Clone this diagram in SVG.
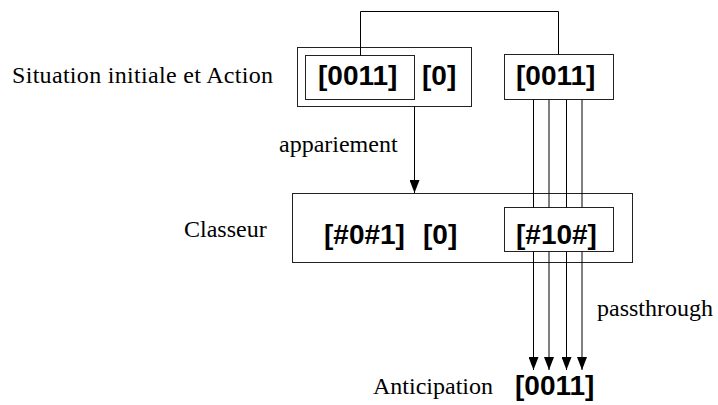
<svg xmlns="http://www.w3.org/2000/svg" width="718" height="405" viewBox="0 0 718 405">
<style>
.box{fill:none;stroke:#222;stroke-width:1}
.ln{fill:none;stroke:#000;stroke-width:1}
.lbl{font-family:"Liberation Serif","Times New Roman",serif;font-size:24px;fill:#000}
.bit{font-family:"Liberation Sans",Arial,sans-serif;font-size:28px;font-weight:bold;fill:#000}
</style>
<defs>
<marker id="ar" markerUnits="userSpaceOnUse" markerWidth="14" markerHeight="10" refX="13" refY="5" orient="auto" viewBox="0 0 14 10">
<path d="M0,0 L13,5 L0,10 Z" fill="#000"/>
</marker>
</defs>
<rect width="718" height="405" fill="#fff"/>
<text class="lbl" x="12" y="83" textLength="261" lengthAdjust="spacing">Situation initiale et Action</text>
<text class="lbl" x="279" y="152">appariement</text>
<text class="lbl" x="184" y="237">Classeur</text>
<text class="lbl" x="597" y="316">passthrough</text>
<text class="lbl" x="373" y="394">Anticipation</text>
<g id="situation">
<rect class="box" x="297.5" y="47.5" width="174" height="59"/>
<rect class="box" x="305.5" y="55.5" width="109" height="44"/>
<text class="bit" x="318" y="85">[0011]</text>
<text class="bit" x="422" y="85">[0]</text>
</g>
<g id="action">
<rect class="box" x="504.5" y="54.5" width="109" height="45"/>
<text class="bit" x="516" y="85">[0011]</text>
</g>
<g id="classeur">
<rect class="box" x="292.5" y="193.5" width="340" height="69"/>
<text class="bit" x="324" y="244">[#0#1]</text>
<text class="bit" x="423" y="244">[0]</text>
</g>
<g id="passthrough">
<rect class="box" x="504.5" y="207.5" width="109" height="44"/>
<text class="bit" x="516" y="244">[#10#]</text>
</g>
<g id="anticipation">
<text class="bit" x="515" y="395">[0011]</text>
</g>
<g id="connectors">
<polyline class="ln" points="360.5,55.5 360.5,11.5 558.5,11.5 558.5,54.5"/>
<line class="ln" x1="414.5" y1="106.5" x2="414.5" y2="193" marker-end="url(#ar)"/>
<line class="ln" x1="533.5" y1="99.5" x2="533.5" y2="207.5"/>
<line class="ln" x1="549" y1="99.5" x2="549" y2="207.5"/>
<line class="ln" x1="566.5" y1="99.5" x2="566.5" y2="207.5"/>
<line class="ln" x1="582" y1="99.5" x2="582" y2="207.5"/>
<line class="ln" x1="533.5" y1="251.5" x2="533.5" y2="370" marker-end="url(#ar)"/>
<line class="ln" x1="549" y1="251.5" x2="549" y2="370" marker-end="url(#ar)"/>
<line class="ln" x1="566.5" y1="251.5" x2="566.5" y2="370" marker-end="url(#ar)"/>
<line class="ln" x1="582" y1="251.5" x2="582" y2="370" marker-end="url(#ar)"/>
</g>
</svg>
